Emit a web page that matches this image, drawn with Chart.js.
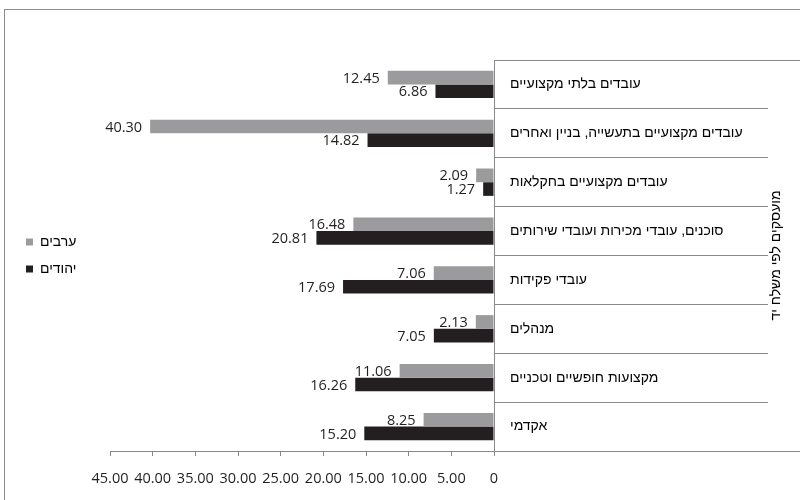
<!DOCTYPE html>
<html lang="he">
<head>
<meta charset="utf-8">
<title>מועסקים לפי משלח יד</title>
<script src="https://cdn.jsdelivr.net/npm/chart.js@4.4.1/dist/chart.umd.min.js"></script>
<style>
  body { margin: 0; background: #fff; overflow: hidden; }
  #frame {
    position: absolute; left: 4px; top: 9px; width: 830px; height: 530px;
    border-left: 1px solid #8c8c8c; border-top: 1px solid #8c8c8c;
  }
  #wrap { position: absolute; left: 0; top: 0; width: 795px; height: 490px; }
</style>
</head>
<body>
<div id="frame"><div id="wrap"><canvas id="chart"></canvas></div></div>
<script>
// נתונים
const categories = [
  "עובדים בלתי מקצועיים",
  "עובדים מקצועיים בתעשייה, בניין ואחרים",
  "עובדים מקצועיים בחקלאות",
  "סוכנים, עובדי מכירות ועובדי שירותים",
  "עובדי פקידות",
  "מנהלים",
  "מקצועות חופשיים וטכניים",
  "אקדמי",
];
const seriesNames = ["ערבים", "יהודים"];
const arabs = [12.45, 40.3, 2.09, 16.48, 7.06, 2.13, 11.06, 8.25];
const jews = [6.86, 14.82, 1.27, 20.81, 17.69, 7.05, 16.26, 15.2];
const axisTitle = "מועסקים לפי משלח יד";
const xMin = 0;
const xMax = 45;
const xStep = 5;

const GRAY = "#9b9b9d";
const BLACK = "#231f20";
const LINE = "#8a8a8a";
const NUM_FONT = { family: "'Open Sans', 'Liberation Sans', sans-serif", size: 14.5 };
const HEB_FONT = { family: "'Liberation Sans', Arial, sans-serif", size: 14 };
const LABEL_ROW = 274;
const LEGEND_WIDTH = 97;

// תוויות ערכים משמאל לקצה העמודה
const valueLabels = {
  id: "valueLabels",
  afterDatasetsDraw(chart) {
    const ctx = chart.ctx;
    ctx.save();
    ctx.font = `${NUM_FONT.size}px ${NUM_FONT.family}`;
    ctx.fillStyle = BLACK;
    ctx.textAlign = "right";
    ctx.textBaseline = "middle";
    chart.data.datasets.forEach((ds, i) => {
      const meta = chart.getDatasetMeta(i);
      meta.data.forEach((bar, j) => {
        ctx.fillText(ds.data[j].toFixed(2), bar.x - 8, bar.y + 1);
      });
    });
    ctx.restore();
  },
};

// רוחב קבוע לעמודת המקרא
const legendWidth = {
  id: "legendWidth",
  beforeLayout(chart) {
    const lg = chart.legend;
    if (lg && !lg._fixedWidth) {
      const fit = lg.fit.bind(lg);
      lg.fit = function () {
        fit();
        this.width = LEGEND_WIDTH;
      };
      lg._fixedWidth = true;
    }
  },
};

// כותרת הציר וקווי המסגרת של אזור התוויות
const categoryFrame = {
  id: "categoryFrame",
  afterDraw(chart) {
    const ctx = chart.ctx;
    const y = chart.scales.y;
    ctx.save();
    ctx.strokeStyle = LINE;
    ctx.lineWidth = 1;
    [y.top, y.bottom].forEach((py) => {
      const p = Math.round(py) + 0.5;
      ctx.beginPath();
      ctx.moveTo(y.left, p);
      ctx.lineTo(chart.width, p);
      ctx.stroke();
    });
    ctx.translate(y.left + LABEL_ROW + 8, (y.top + y.bottom) / 2);
    ctx.rotate(-Math.PI / 2);
    ctx.font = `${HEB_FONT.size}px ${HEB_FONT.family}`;
    ctx.fillStyle = "#000";
    ctx.textAlign = "center";
    ctx.textBaseline = "middle";
    ctx.fillText(axisTitle, 0, 0);
    ctx.restore();
  },
};

const ctx = document.getElementById("chart");

new Chart(ctx, {
  type: "bar",
  data: {
    labels: categories,
    datasets: [
      { label: seriesNames[0], data: arabs, backgroundColor: GRAY },
      { label: seriesNames[1], data: jews, backgroundColor: BLACK },
    ],
  },
  options: {
    indexAxis: "y",
    responsive: true,
    maintainAspectRatio: false,
    animation: false,
    layout: { padding: { top: 50, left: 8, right: 0, bottom: 0 } },
    datasets: { bar: { barPercentage: 1, categoryPercentage: 0.56 } },
    scales: {
      x: {
        reverse: true,
        min: xMin,
        max: xMax,
        ticks: {
          stepSize: xStep,
          padding: 14,
          autoSkip: false,
          maxRotation: 0,
          minRotation: 0,
          color: BLACK,
          font: NUM_FONT,
          callback: (v) => (v === 0 ? "0" : v.toFixed(2)),
        },
        grid: { drawOnChartArea: false, tickLength: 5, color: LINE },
        border: { color: LINE },
        afterFit: (s) => {
          s.height = 49;
        },
      },
      y: {
        position: "right",
        grid: { drawOnChartArea: false, tickLength: LABEL_ROW, color: LINE, offset: true },
        border: { color: LINE },
        ticks: {
          crossAlign: "near",
          padding: -258,
          color: "#000",
          font: HEB_FONT,
        },
        afterFit: (s) => {
          s.width = 306;
        },
      },
    },
    plugins: {
      legend: {
        position: "left",
        fullSize: false,
        labels: {
          boxWidth: 7,
          boxHeight: 7,
          padding: 13,
          color: "#000",
          font: HEB_FONT,
        },
      },
      tooltip: { enabled: false },
    },
  },
  plugins: [valueLabels, legendWidth, categoryFrame],
});
</script>
</body>
</html>
